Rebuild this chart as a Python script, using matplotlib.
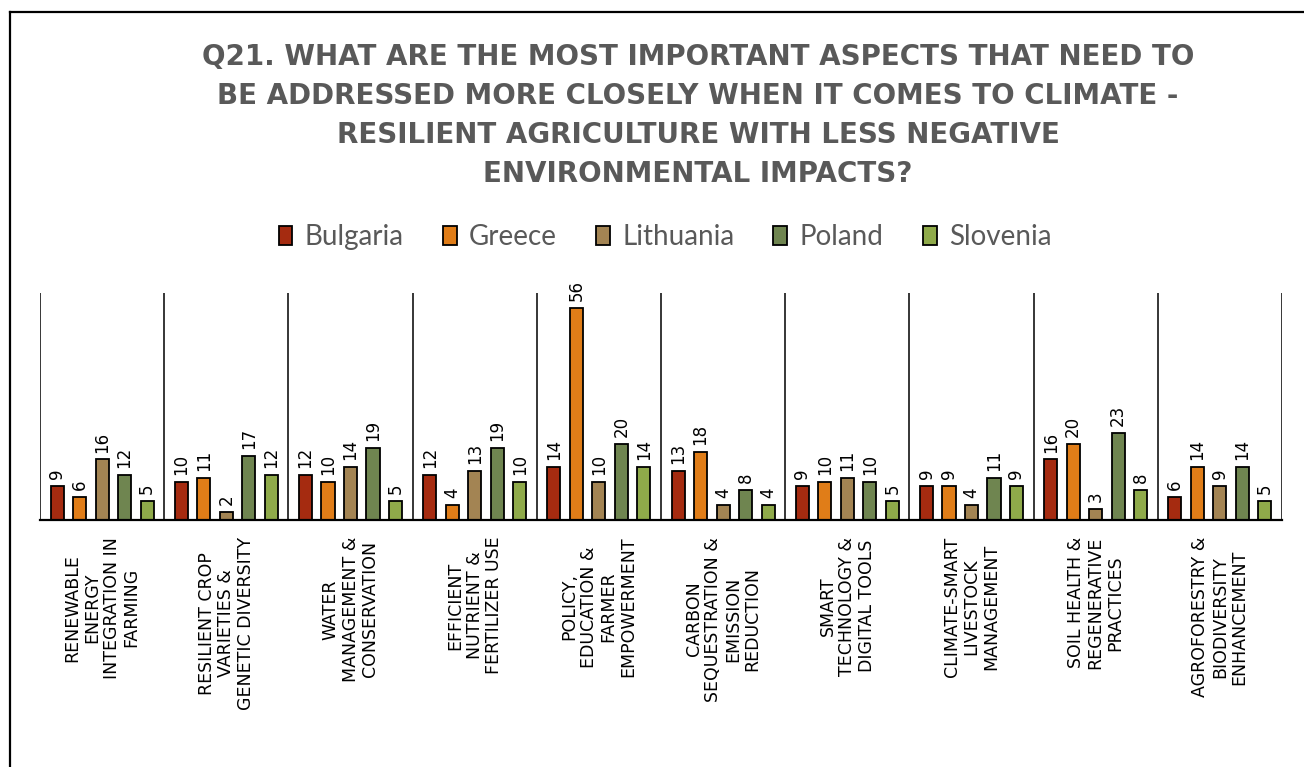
import numpy as np
import matplotlib
matplotlib.use("Agg")
import matplotlib.pyplot as plt
from matplotlib.lines import Line2D

CATEGORIES = ["RENEWABLE\nENERGY\nINTEGRATION IN\nFARMING",
              "RESILIENT CROP\nVARIETIES &\nGENETIC DIVERSITY",
              "WATER\nMANAGEMENT &\nCONSERVATION",
              "EFFICIENT\nNUTRIENT &\nFERTILIZER USE",
              "POLICY,\nEDUCATION &\nFARMER\nEMPOWERMENT",
              "CARBON\nSEQUESTRATION &\nEMISSION\nREDUCTION",
              "SMART\nTECHNOLOGY &\nDIGITAL TOOLS",
              "CLIMATE-SMART\nLIVESTOCK\nMANAGEMENT",
              "SOIL HEALTH &\nREGENERATIVE\nPRACTICES",
              "AGROFORESTRY &\nBIODIVERSITY\nENHANCEMENT"]
COUNTRIES = ["Bulgaria", "Greece", "Lithuania", "Poland", "Slovenia"]
COLORS = ["#A52B10", "#E07D18", "#A38453", "#6F8550", "#8FAA4A"]
BULGARIA = [9, 10, 12, 12, 14, 13, 9, 9, 16, 6]
GREECE = [6, 11, 10, 4, 56, 18, 10, 9, 20, 14]
LITHUANIA = [16, 2, 14, 13, 10, 4, 11, 4, 3, 9]
POLAND = [12, 17, 19, 19, 20, 8, 10, 11, 23, 14]
SLOVENIA = [5, 12, 5, 10, 14, 4, 5, 9, 8, 5]
SERIES = [BULGARIA, GREECE, LITHUANIA, POLAND, SLOVENIA]

TITLE = ("Q21. WHAT ARE THE MOST IMPORTANT ASPECTS THAT NEED TO\n"
         "BE ADDRESSED MORE CLOSELY WHEN IT COMES TO CLIMATE -\n"
         "RESILIENT AGRICULTURE WITH LESS NEGATIVE\n"
         "ENVIRONMENTAL IMPACTS?")
GREY = "#595959"

W, H = 1304, 767
fig = plt.figure(figsize=(W / 100, H / 100), dpi=100)
ax = fig.add_axes([40 / W, 1 - 520 / H, (1282 - 40) / W, (520 - 293) / H])

x = np.arange(len(CATEGORIES))
step, width = 0.181, 0.105
for i, (name, vals, col) in enumerate(zip(COUNTRIES, SERIES, COLORS)):
    pos = x + (i - 2) * step
    bars = ax.bar(pos, vals, width, color=col, edgecolor="black", linewidth=1.3,
                  label=name, zorder=3)
    for b, v in zip(bars, vals):
        ax.annotate(str(v), (b.get_x() + b.get_width() / 2, v), xytext=(0, 5),
                    textcoords="offset points", rotation=90, ha="center", va="bottom",
                    fontsize=12, color="black")

for b in np.arange(-0.5, len(CATEGORIES), 1.0):
    ax.axvline(b, color="black", lw=1.1, zorder=2)

ax.set_xlim(-0.5, len(CATEGORIES) - 0.5)
ax.set_ylim(0, 60)
ax.set_yticks([])
ax.set_xticks(x)
ax.set_xticklabels(CATEGORIES, rotation=90, fontsize=12.5, ha="center", va="top",
                   multialignment="center", color="black", linespacing=1.12)
ax.tick_params(axis="x", length=0, pad=12)
for s in ["top", "left", "right"]:
    ax.spines[s].set_visible(False)
ax.spines["bottom"].set_linewidth(1.6)
ax.spines["bottom"].set_zorder(4)

fig.text(698 / W, 1 - 43 / H, TITLE, ha="center", va="top", fontsize=20,
         fontweight="bold", color=GREY, family="DejaVu Sans", linespacing=1.5)

leg = fig.legend(loc="center", bbox_to_anchor=(665 / W, 1 - 237 / H), ncol=5,
                 frameon=False, handlelength=0.5, handleheight=0.65, handletextpad=0.45,
                 columnspacing=1.4, prop={"family": "Lato", "size": 20})
for t in leg.get_texts():
    t.set_color(GREY)

# chart frame (only top and left edges are inside the picture)
fig.add_artist(Line2D([10 / W, 10 / W], [-0.01, 1 - 12 / H], color="black", lw=1.6))
fig.add_artist(Line2D([10 / W, 1.01], [1 - 12 / H, 1 - 12 / H], color="black", lw=1.6))

fig.savefig("out.png", dpi=100)
